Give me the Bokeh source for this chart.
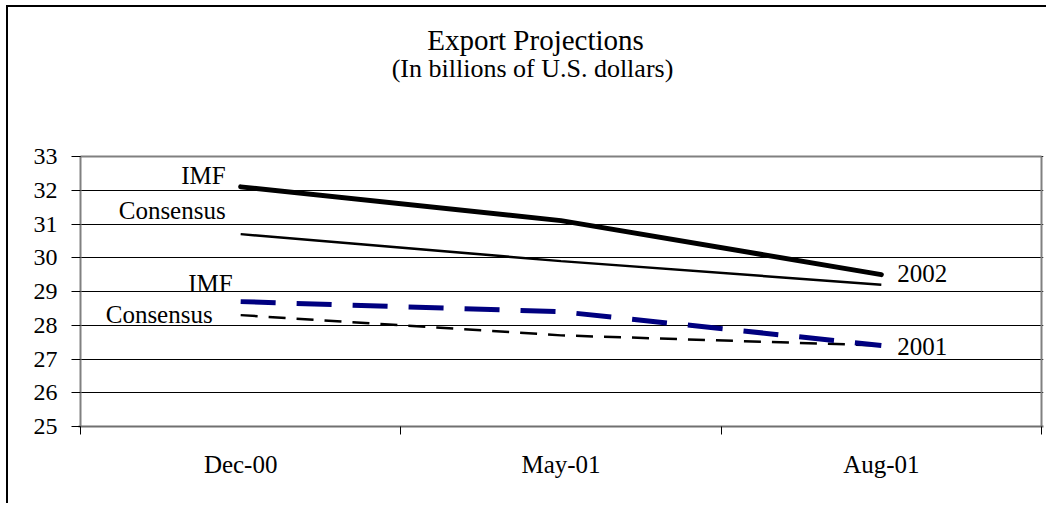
from bokeh.plotting import figure
from bokeh.models import Label, FixedTicker
from bokeh.embed import file_html
from bokeh.resources import INLINE

# ---- data ----
categories = ["Dec-00", "May-01", "Aug-01"]
imf_2002 = [32.1, 31.1, 29.5]
consensus_2002 = [30.7, 29.9, 29.2]
imf_2001 = [28.7, 28.4, 27.4]
consensus_2001 = [28.3, 27.7, 27.4]
y_ticks = [25, 26, 27, 28, 29, 30, 31, 32, 33]
title_text = "Export Projections"
subtitle_text = "(In billions of U.S. dollars)"

# ---- layout constants (page pixels) ----
OX, OY = 8, 7                      # canvas origin on the page
W, H = 1040, 498
L, R, T, B = 80, 1041, 156, 426    # chart area (categories / 25..33) on the page
FL, FR = 78, 1043                  # drawing frame slightly wider so edges are not clipped
Y0, Y1 = y_ticks[0], y_ticks[-1]
NX = len(categories)
PPX = (R - L) / NX
PPY = (B - T) / (Y1 - Y0)

def xd(px):
    return (px - L) / PPX

def yd(py):
    return Y1 + (T - py) / PPY

x = [i + 0.5 for i in range(NX)]

p = figure(width=W, height=H,
           x_range=(xd(FL), xd(FR)), y_range=(Y0, yd(OY)),
           output_backend="svg", toolbar_location=None,
           min_border_left=FL - OX, min_border_right=OX + W - FR,
           min_border_top=0, min_border_bottom=OY + H - B)
p.background_fill_color = "white"
p.border_fill_color = "white"
p.outline_line_color = None
p.styles = {"border-left": "2px solid #000", "border-top": "2px solid #000"}
p.margin = (OY - 2, 0, 0, OX - 2)

FONT = "Liberation Serif"

# grid
p.xgrid.visible = False
p.ygrid.ticker = FixedTicker(ticks=y_ticks)
p.ygrid.grid_line_color = "black"
p.ygrid.grid_line_width = 1

# y axis (line drawn separately so it stops at the top of the chart area)
p.yaxis.ticker = FixedTicker(ticks=y_ticks)
p.yaxis.axis_line_color = None
p.yaxis.major_tick_out = 7
p.yaxis.major_tick_in = 2
p.yaxis.minor_tick_out = 0
p.yaxis.minor_tick_in = 0
p.yaxis.major_tick_line_color = "black"
p.yaxis.major_label_text_font = FONT
p.yaxis.major_label_text_font_size = "24px"
p.yaxis.major_label_text_color = "black"
p.yaxis.major_label_standoff = 14

# x axis: labels at category centres, tick marks at category boundaries
p.xaxis.ticker = FixedTicker(ticks=x, minor_ticks=list(range(NX + 1)))
p.xaxis.major_label_overrides = {xi: c for xi, c in zip(x, categories)}
p.xaxis.axis_line_color = "#707070"
p.xaxis.axis_line_width = 2
p.xaxis.major_tick_out = 0
p.xaxis.major_tick_in = 0
p.xaxis.minor_tick_out = 8
p.xaxis.minor_tick_in = 0
p.xaxis.minor_tick_line_color = "black"
p.xaxis.major_label_text_font = FONT
p.xaxis.major_label_text_font_size = "25px"
p.xaxis.major_label_text_color = "black"
p.xaxis.major_label_standoff = 16

# chart-area border (left axis, top and right edges)
p.segment(x0=[0, 0, NX], y0=[Y0, Y1, Y0], x1=[0, NX, NX], y1=[Y1, Y1, Y1],
          line_color="#808080", line_width=2)

# series
p.line(x, imf_2002, line_color="black", line_width=5, line_cap="round")
p.line(x, consensus_2002, line_color="black", line_width=2.5)
p.line(x, consensus_2001, line_color="black", line_width=2.5, line_dash="17 11")
p.line(x, imf_2001, line_color="#000080", line_width=5, line_dash="35 21")

def text_label(text, xv, yv, size, align, dx=0):
    p.add_layout(Label(x=xv, y=yv, x_offset=dx, text=text,
                       text_align=align, text_baseline="middle",
                       text_font=FONT, text_font_size=size, text_color="black"))

# titles
text_label(title_text, xd(535), yd(39), "29px", "center")
text_label(subtitle_text, xd(532), yd(68), "26px", "center")

# series labels
text_label("IMF", x[0], yd(175), "25px", "right", -15)
text_label("Consensus", x[0], yd(210), "25px", "right", -15)
text_label("IMF", x[0], yd(283), "25px", "right", -8)
text_label("Consensus", x[0], yd(314), "25px", "right", -28)
text_label("2002", x[2], yd(273), "25px", "left", 16)
text_label("2001", x[2], yd(346), "25px", "left", 16)

open("out.html", "w").write(file_html(p, INLINE))
